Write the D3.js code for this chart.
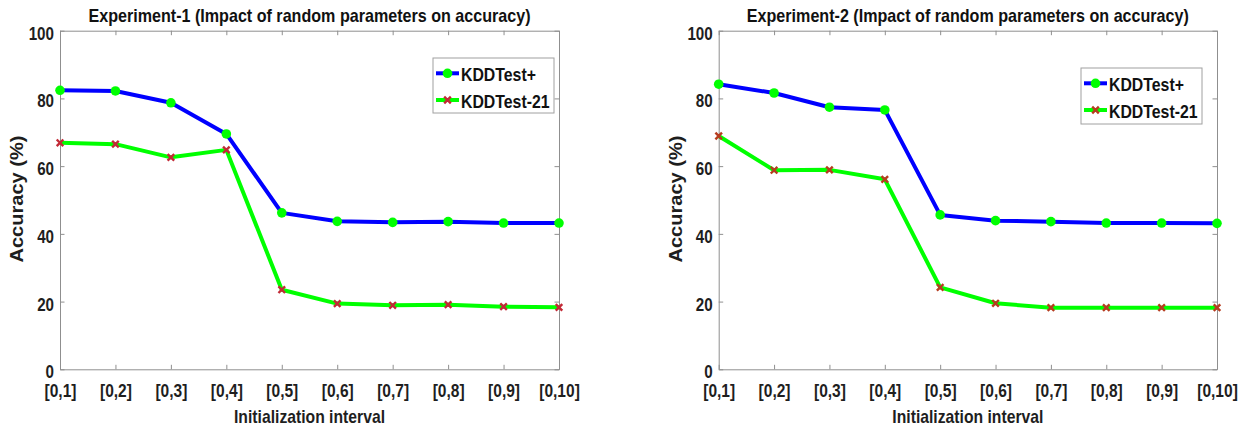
<!DOCTYPE html>
<html><head><meta charset="utf-8">
<script src="https://cdn.jsdelivr.net/npm/d3@7"></script>
<style>body{margin:0;background:#fff} svg{display:block}</style>
</head><body>
<svg id="chart" width="1253" height="430"></svg>
<script>
// ---------- data ----------
const categories = ["[0,1]","[0,2]","[0,3]","[0,4]","[0,5]","[0,6]","[0,7]","[0,8]","[0,9]","[0,10]"];
const yTicks = [0, 20, 40, 60, 80, 100];
const seriesNames = ["KDDTest+", "KDDTest-21"];
const titles = ["Experiment-1 (Impact of random parameters on accuracy)",
                "Experiment-2 (Impact of random parameters on accuracy)"];
const xAxisTitle = "Initialization interval";
const yAxisTitle = "Accuracy (%)";
const exp1KDDTestPlus = [82.4, 82.2, 78.7, 69.5, 46.2, 43.7, 43.4, 43.6, 43.2, 43.2];
const exp1KDDTest21   = [66.9, 66.5, 62.6, 64.8, 23.5, 19.4, 18.9, 19.1, 18.5, 18.3];
const exp2KDDTestPlus = [84.2, 81.6, 77.4, 76.6, 45.6, 43.9, 43.6, 43.2, 43.2, 43.1];
const exp2KDDTest21   = [68.9, 58.8, 58.9, 56.1, 24.2, 19.5, 18.2, 18.2, 18.2, 18.2];

// ---------- layout / style ----------
const panels = [
  {title: titles[0], plus: exp1KDDTestPlus, m21: exp1KDDTest21,
   x0: 60, x1: 559, legend: {x: 433, y: 58, w: 121, h: 55}, xColor: "#c22a36"},
  {title: titles[1], plus: exp2KDDTestPlus, m21: exp2KDDTest21,
   x0: 718.7, x1: 1217, legend: {x: 1081, y: 68, w: 121, h: 56}, xColor: "#b63c1f"}
];
const TOP = 30.7, BOTTOM = 369.3;
const FONT = "'Liberation Sans', Arial, Helvetica, sans-serif";
const AXIS_COLOR = "#8f8f8f";
const TEXT_COLOR = "#1e1e1e";
const BLUE = "#0000ff", GREEN = "#00ff00";

const svg = d3.select("#chart");

function squeeze(sel, f) {
  sel.each(function () {
    const L = this.getComputedTextLength();
    this.setAttribute("textLength", (L * f).toFixed(2));
    this.setAttribute("lengthAdjust", "spacingAndGlyphs");
  });
}
function fitTo(sel, w) {
  sel.attr("textLength", w).attr("lengthAdjust", "spacingAndGlyphs");
}

const xSym = d3.symbol().type(d3.symbolX).size(30);

panels.forEach(p => {
  const x = d3.scalePoint().domain(categories).range([p.x0, p.x1]);
  const y = d3.scaleLinear().domain([0, 100]).range([BOTTOM, TOP]);
  const g = svg.append("g");
  const cx = (p.x0 + p.x1) / 2;

  // axes
  const gb = g.append("g").attr("transform", `translate(0,${BOTTOM})`)
    .call(d3.axisBottom(x).tickSizeInner(-4.5).tickSizeOuter(0));
  const gt = g.append("g").attr("transform", `translate(0,${TOP})`)
    .call(d3.axisTop(x).tickSizeInner(-4.5).tickSizeOuter(0).tickFormat(""));
  const gl = g.append("g").attr("transform", `translate(${p.x0},0)`)
    .call(d3.axisLeft(y).tickValues(yTicks).tickSizeInner(-4.5).tickSizeOuter(0));
  const gr = g.append("g").attr("transform", `translate(${p.x1},0)`)
    .call(d3.axisRight(y).tickValues(yTicks).tickSizeInner(-4.5).tickSizeOuter(0).tickFormat(""));
  [gb, gt, gl, gr].forEach(a => {
    a.selectAll("path.domain").attr("stroke", AXIS_COLOR).attr("stroke-width", 1);
    a.selectAll(".tick line").attr("stroke", AXIS_COLOR).attr("stroke-width", 1);
  });
  gb.selectAll(".tick text")
    .attr("y", 397 - BOTTOM).attr("dy", null)
    .attr("font-family", FONT).attr("font-weight", "bold").attr("font-size", 18.5)
    .attr("fill", TEXT_COLOR).call(squeeze, 0.84);
  gl.selectAll(".tick text")
    .attr("x", -6).attr("dy", 8.5)
    .attr("font-family", FONT).attr("font-weight", "bold").attr("font-size", 18.5)
    .attr("fill", TEXT_COLOR).call(squeeze, 0.82);
  [gb, gt, gl, gr].forEach(a => a.attr("font-family", null).attr("font-size", null));

  // title
  g.append("text").attr("x", cx).attr("y", 22).attr("text-anchor", "middle")
    .attr("font-family", FONT).attr("font-weight", "bold").attr("font-size", 18.5)
    .attr("fill", "#111").text(p.title).call(fitTo, 442);
  // x title
  g.append("text").attr("x", cx).attr("y", 423).attr("text-anchor", "middle")
    .attr("font-family", FONT).attr("font-weight", "bold").attr("font-size", 18.6)
    .attr("fill", TEXT_COLOR).text(xAxisTitle).call(fitTo, 151);
  // y title
  g.append("text")
    .attr("transform", `translate(${p.x0 - 36.7},${(TOP + BOTTOM) / 2 - 1}) rotate(-90)`)
    .attr("text-anchor", "middle")
    .attr("font-family", FONT).attr("font-weight", "bold").attr("font-size", 18.8)
    .attr("fill", TEXT_COLOR).text(yAxisTitle).call(fitTo, 127);

  // series
  const line = d3.line().x((d, i) => x(categories[i])).y(d => y(d));
  g.append("path").datum(p.plus).attr("d", line).attr("fill", "none")
    .attr("stroke", BLUE).attr("stroke-width", 4).attr("stroke-linejoin", "round");
  g.append("path").datum(p.m21).attr("d", line).attr("fill", "none")
    .attr("stroke", GREEN).attr("stroke-width", 4).attr("stroke-linejoin", "round");
  g.selectAll("circle.mk").data(p.plus).join("circle").attr("class", "mk")
    .attr("cx", (d, i) => x(categories[i])).attr("cy", d => y(d))
    .attr("r", 4.8).attr("fill", GREEN);
  g.selectAll("path.xm").data(p.m21).join("path").attr("class", "xm")
    .attr("transform", (d, i) => `translate(${x(categories[i])},${y(d)})`)
    .attr("d", xSym).attr("fill", "none").attr("stroke", p.xColor).attr("stroke-width", 2.4);

  // legend
  const L = p.legend;
  const lg = g.append("g");
  lg.append("rect").attr("x", L.x).attr("y", L.y).attr("width", L.w).attr("height", L.h)
    .attr("fill", "#fff").attr("stroke", "#a0a0a0").attr("stroke-width", 1);
  const rows = [
    {name: seriesNames[0], color: BLUE, dy: 15.3, by: 22.5},
    {name: seriesNames[1], color: GREEN, dy: 42, by: 49.5}
  ];
  rows.forEach((r, i) => {
    lg.append("line").attr("x1", L.x + 3).attr("x2", L.x + 26)
      .attr("y1", L.y + r.dy).attr("y2", L.y + r.dy)
      .attr("stroke", r.color).attr("stroke-width", 4);
    if (i === 0) {
      lg.append("circle").attr("cx", L.x + 14.5).attr("cy", L.y + r.dy).attr("r", 4.8).attr("fill", GREEN);
    } else {
      lg.append("path").attr("transform", `translate(${L.x + 14.5},${L.y + r.dy})`)
        .attr("d", xSym).attr("fill", "none").attr("stroke", p.xColor).attr("stroke-width", 2.4);
    }
    lg.append("text").attr("x", L.x + 28).attr("y", L.y + r.by)
      .attr("font-family", FONT).attr("font-weight", "bold").attr("font-size", 17.8)
      .attr("fill", "#111").text(r.name).call(squeeze, 0.89);
  });
});
</script>
</body></html>
